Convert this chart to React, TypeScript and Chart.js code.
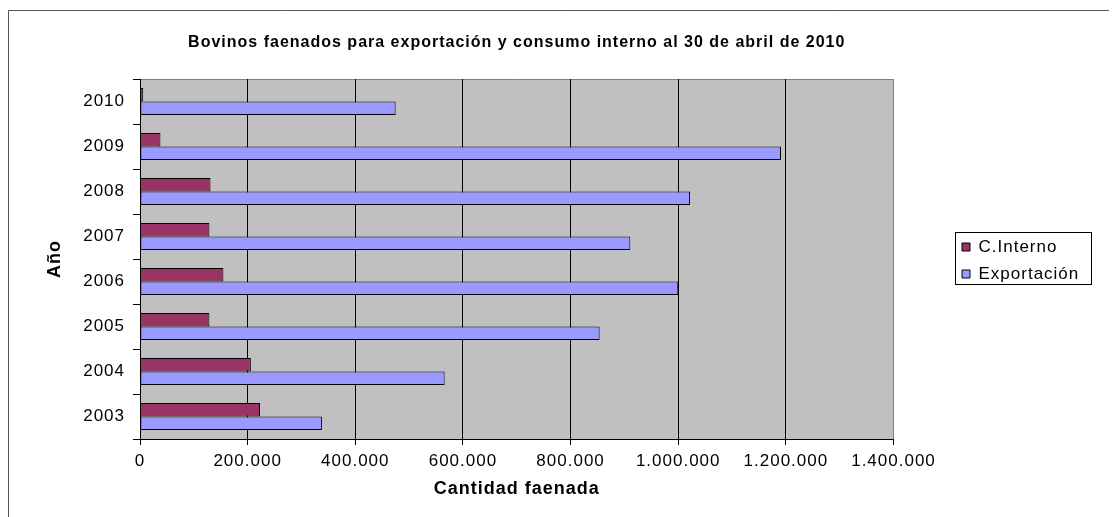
import { useEffect, useRef } from 'react';
import { Chart, registerables } from 'chart.js';

Chart.register(...registerables);

// ---- data ----
const years = ['2010', '2009', '2008', '2007', '2006', '2005', '2004', '2003'];
const cInterno = [6000, 38000, 131000, 129000, 155000, 129000, 206000, 223000];
const exportacion = [475000, 1191000, 1022000, 911000, 1000000, 854000, 566000, 338000];
const seriesNames = ['C.Interno', 'Exportación'];
const xMax = 1400000;
const xStep = 200000;
const titleText = 'Bovinos faenados para exportación y consumo interno al 30 de abril de 2010';
const xTitle = 'Cantidad faenada';
const yTitle = 'Año';

// ---- layout / style ----
const W = 1109;
const H = 509;
const PLOT_LEFT = 132;
const PLOT_RIGHT = 885.5;
const PLOT_BOTTOM = 431;
const LEGEND_LEFT = 944;
const FONT = "'Liberation Sans', Arial, sans-serif";
const SPACING = '1px';

const fmt = (v: number) => String(v).replace(/\B(?=(\d{3})+(?!\d))/g, '.');

const customPlugin = {
  id: 'custom',
  beforeLayout(chart: any) {
    chart.ctx.letterSpacing = SPACING;
    const lg = chart.legend;
    if (lg && !lg.__patched) {
      const orig = lg.fit.bind(lg);
      lg.fit = function () {
        orig();
        this.width = W - PLOT_RIGHT;
      };
      lg.__patched = true;
    }
  },
  afterLayout(chart: any) {
    const lg = chart.legend;
    if (lg) {
      const dx = LEGEND_LEFT - lg.left;
      lg.left += dx;
      lg.right += dx;
      lg.top -= 2;
      lg.bottom -= 2;
    }
  },
  beforeDraw(chart: any) {
    const ctx = chart.ctx;
    ctx.letterSpacing = SPACING;
    const a = chart.chartArea;
    ctx.save();
    ctx.fillStyle = '#c0c0c0';
    ctx.fillRect(a.left, a.top, a.right - a.left, a.bottom - a.top);
    ctx.strokeStyle = '#808080';
    ctx.lineWidth = 1;
    ctx.beginPath();
    ctx.moveTo(a.left, Math.round(a.top) + 0.5);
    ctx.lineTo(a.right, Math.round(a.top) + 0.5);
    ctx.stroke();
    // outer chart border
    ctx.strokeStyle = '#555555';
    ctx.beginPath();
    ctx.moveTo(0.5, H);
    ctx.lineTo(0.5, 2.5);
    ctx.lineTo(W, 2.5);
    ctx.stroke();
    ctx.restore();
  },
  afterDraw(chart: any) {
    const ctx = chart.ctx;
    ctx.save();
    ctx.strokeStyle = '#000';
    ctx.lineWidth = 1;
    ctx.strokeRect(947.5, 224.5, 136, 52);
    ctx.restore();
  },
};

export default function App() {
  const ref = useRef<HTMLCanvasElement>(null);

  useEffect(() => {
    if (!ref.current) return;
    const chart = new Chart(ref.current, {
      type: 'bar',
      data: {
        labels: years,
        datasets: [
          {
            label: seriesNames[0],
            data: cInterno,
            backgroundColor: '#993366',
            borderColor: '#000000',
            borderWidth: 1,
            borderSkipped: false,
          },
          {
            label: seriesNames[1],
            data: exportacion,
            backgroundColor: '#9999ff',
            borderColor: '#000000',
            borderWidth: 1,
            borderSkipped: false,
          },
        ],
      },
      options: {
        indexAxis: 'y',
        responsive: false,
        animation: false,
        events: [],
        layout: { padding: 0 },
        datasets: { bar: { categoryPercentage: 0.6, barPercentage: 1.0 } },
        scales: {
          x: {
            min: 0,
            max: xMax,
            afterFit: (s: any) => {
              s.height = H - PLOT_BOTTOM;
            },
            ticks: {
              stepSize: xStep,
              color: '#000',
              padding: 6,
              font: { family: FONT, size: 17 },
              callback: (v: any) => fmt(Number(v)),
              maxRotation: 0,
            },
            grid: {
              color: (c: any) => (c.tick && c.tick.value === xMax ? '#808080' : '#000000'),
              tickColor: '#000000',
              tickLength: 6,
              lineWidth: 1,
            },
            border: { color: '#000000' },
            title: {
              display: true,
              text: xTitle,
              color: '#000',
              font: { family: FONT, size: 18, weight: 'bold' },
              padding: { top: 0, bottom: 17 },
            },
          },
          y: {
            afterFit: (s: any) => {
              s.width = PLOT_LEFT;
            },
            ticks: {
              color: '#000',
              padding: 8,
              font: { family: FONT, size: 17 },
            },
            grid: {
              drawOnChartArea: false,
              drawTicks: true,
              tickLength: 7,
              tickColor: '#000000',
            },
            border: { color: '#000000' },
            title: {
              display: true,
              text: yTitle,
              color: '#000',
              font: { family: FONT, size: 18, weight: 'bold' },
              padding: { top: 36, bottom: 0 },
            },
          },
        },
        plugins: {
          title: {
            display: true,
            text: titleText,
            color: '#000',
            fullSize: false,
            font: { family: FONT, size: 16, weight: 'bold' },
            padding: { top: 25.4, bottom: 26.4 },
          },
          legend: {
            display: true,
            position: 'right',
            labels: {
              color: '#000',
              boxWidth: 8,
              boxHeight: 8,
              padding: 10,
              font: { family: FONT, size: 17 },
            },
          },
          tooltip: { enabled: false },
        },
      },
      plugins: [customPlugin],
    } as any);
    return () => chart.destroy();
  }, []);

  return <canvas ref={ref} width={W} height={H} style={{ display: 'block', width: W, height: H }} />;
}
